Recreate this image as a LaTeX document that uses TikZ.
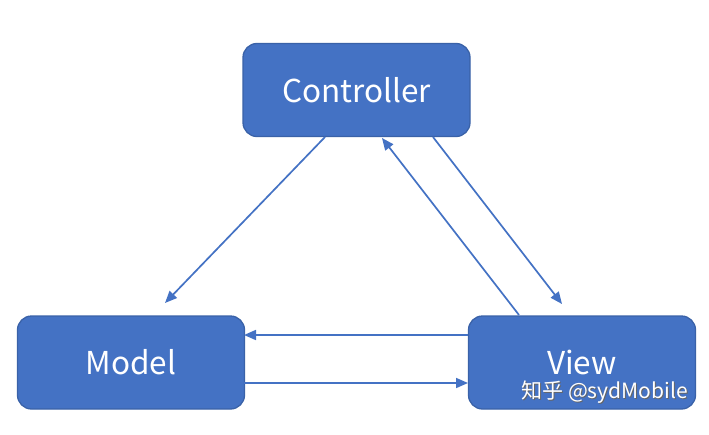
\documentclass[tikz,border=0pt]{standalone}
\usepackage{fontspec}
\setmainfont{Noto Sans CJK SC}
\usetikzlibrary{arrows.meta}
\definecolor{boxblue}{HTML}{4472C4}
\definecolor{boxedge}{HTML}{3A62A8}
\definecolor{lineblue}{HTML}{4472C4}
\tikzset{
  mvcbox/.style={draw=boxedge, line width=1.3pt, fill=boxblue, rounded corners=14pt,
    minimum width=227pt, minimum height=93pt, text=white, inner sep=0pt,
    font=\fontsize{31.5}{31.5}\selectfont},
  conn/.style={draw=lineblue, line width=1.7pt, -{Triangle[length=12pt,width=10pt]}},
  wm/.style={inner sep=0pt, font=\fontsize{21}{21}\selectfont}
}
\begin{document}
\begin{tikzpicture}[x=1pt,y=-1pt]
\useasboundingbox (0,0) rectangle (709,434);
\fill[white] (0,0) rectangle (709,434);
\node[mvcbox] (ctrl) at (356.5,90) {Controller};
\node[mvcbox] (model) at (131,362.5) {Model};
\node[mvcbox] (view) at (582,362.5) {View};
\coordinate (c1) at (325,137);
\coordinate (m1) at (165,303);
\coordinate (v2) at (519,315);
\coordinate (c2) at (382,138);
\coordinate (c3) at (433,137);
\coordinate (v3) at (562,304);
\coordinate (vw1) at (468,335);
\coordinate (md1) at (244,335);
\coordinate (md2) at (244,383);
\coordinate (vw2) at (468,383);
\draw[conn] (c1) -- (m1);
\draw[conn] (v2) -- (c2);
\draw[conn] (c3) -- (v3);
\draw[conn] (vw1) -- (md1);
\draw[conn] (md2) -- (vw2);
\node[wm, text=black!60, anchor=east] (wmshadow) at (689,393.5) {知乎 @sydMobile};
\node[wm, text=white, anchor=east] (wmark) at (688,392.5) {知乎 @sydMobile};
\end{tikzpicture}
\end{document}
